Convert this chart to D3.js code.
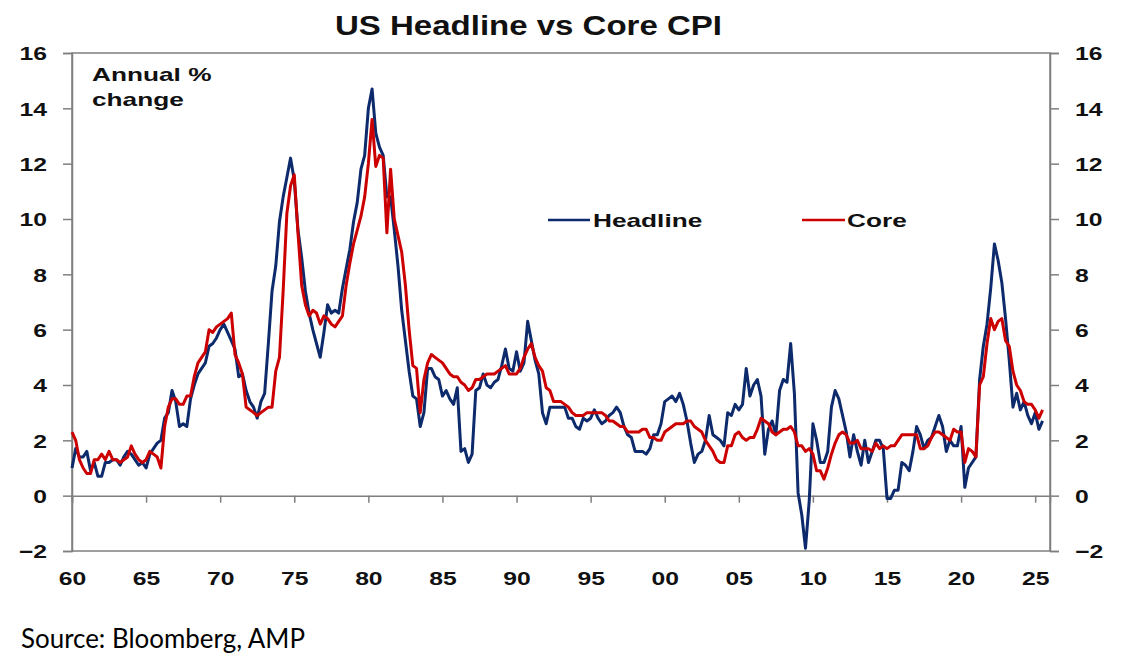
<!DOCTYPE html>
<html>
<head>
<meta charset="utf-8">
<script src="https://cdn.jsdelivr.net/npm/d3@7"></script>
<style>
  html, body { margin: 0; padding: 0; background: #ffffff; }
  svg { display: block; }
</style>
</head>
<body>
<svg id="chart" width="1134" height="668"></svg>
<script>
// ---- DATA (quarterly, first value = Q1 1960) ----
const startYear = 1960;
const headline = [
  1.0, 1.7, 1.4, 1.4,   // 1960
  1.6, 0.9, 1.2, 0.7,   // 1961
  0.7, 1.2, 1.2, 1.3,   // 1962
  1.3, 1.1, 1.4, 1.6,   // 1963
  1.5, 1.3, 1.1, 1.2,   // 1964
  1.0, 1.5, 1.7, 1.9,   // 1965
  2.0, 2.8, 3.0, 3.8,   // 1966
  3.4, 2.5, 2.6, 2.5,   // 1967
  3.5, 4.0, 4.4, 4.6,   // 1968
  4.8, 5.4, 5.5, 5.7,   // 1969
  6.0, 6.2, 5.9, 5.6,   // 1970
  5.3, 4.3, 4.4, 3.8,   // 1971
  3.4, 3.2, 2.8, 3.4,   // 1972
  3.7, 5.5, 7.4, 8.3,   // 1973
  9.9, 10.8, 11.5, 12.2, // 1974
  11.4, 9.6, 8.6, 7.4,  // 1975
  6.6, 6.0, 5.5, 5.0,   // 1976
  5.9, 6.9, 6.6, 6.7,   // 1977
  6.6, 7.5, 8.2, 8.9,   // 1978
  9.9, 10.6, 11.8, 12.3, // 1979
  14.0, 14.7, 13.1, 12.6, // 1980
  12.3, 10.8, 10.8, 9.6, // 1981
  8.3, 6.7, 5.6, 4.5,   // 1982
  3.6, 3.5, 2.5, 3.0,   // 1983
  4.6, 4.6, 4.3, 4.2,   // 1984
  3.6, 3.8, 3.5, 3.3,   // 1985
  3.9, 1.6, 1.7, 1.2,   // 1986
  1.5, 3.8, 3.9, 4.4,   // 1987
  4.0, 3.9, 4.1, 4.2,   // 1988
  4.7, 5.3, 4.6, 4.5,   // 1989
  5.2, 4.5, 4.8, 6.3,   // 1990
  5.6, 4.9, 4.4, 3.0,   // 1991
  2.6, 3.2, 3.2, 3.2,   // 1992
  3.2, 3.2, 2.8, 2.8,   // 1993
  2.5, 2.4, 2.8, 2.7,   // 1994
  2.8, 3.1, 2.8, 2.6,   // 1995
  2.7, 2.9, 3.0, 3.2,   // 1996
  3.0, 2.5, 2.2, 2.1,   // 1997
  1.6, 1.6, 1.6, 1.5,   // 1998
  1.7, 2.2, 2.2, 2.6,   // 1999
  3.4, 3.5, 3.6, 3.4,   // 2000
  3.7, 3.3, 2.7, 1.9,   // 2001
  1.2, 1.5, 1.6, 2.0,   // 2002
  2.9, 2.2, 2.1, 2.0,   // 2003
  1.8, 3.0, 2.9, 3.3,   // 2004
  3.1, 3.3, 4.6, 3.6,   // 2005
  4.0, 4.2, 3.6, 1.5,   // 2006
  2.4, 2.7, 2.2, 3.8,   // 2007
  4.2, 4.1, 5.5, 3.7,   // 2008
  0.1, -0.7, -1.9, -0.2, // 2009
  2.6, 2.0, 1.2, 1.2,   // 2010
  1.6, 3.2, 3.8, 3.5,   // 2011
  2.9, 2.3, 1.4, 2.2,   // 2012
  1.6, 1.1, 2.0, 1.2,   // 2013
  1.6, 2.0, 2.0, 1.7,   // 2014
  -0.1, -0.1, 0.2, 0.2, // 2015
  1.2, 1.1, 0.9, 1.6,   // 2016
  2.5, 2.2, 1.7, 2.0,   // 2017
  2.1, 2.5, 2.9, 2.5,   // 2018
  1.6, 2.0, 1.8, 1.8,   // 2019
  2.5, 0.3, 1.0, 1.2,   // 2020
  1.4, 4.2, 5.4, 6.2,   // 2021
  7.5, 9.1, 8.5, 7.7,   // 2022
  6.4, 4.9, 3.2, 3.7,   // 2023
  3.1, 3.4, 2.9, 2.6,   // 2024
  3.0, 2.4, 2.7         // 2025
];
const core = [
  2.3, 2.0, 1.3, 1.0,   // 1960
  0.8, 0.8, 1.3, 1.3,   // 1961
  1.5, 1.3, 1.6, 1.3,   // 1962
  1.3, 1.2, 1.3, 1.4,   // 1963
  1.8, 1.5, 1.3, 1.2,   // 1964
  1.3, 1.6, 1.5, 1.4,   // 1965
  1.0, 2.5, 3.2, 3.5,   // 1966
  3.5, 3.3, 3.3, 3.6,   // 1967
  3.6, 4.3, 4.8, 5.0,   // 1968
  5.2, 6.0, 5.9, 6.1,   // 1969
  6.2, 6.3, 6.4, 6.6,   // 1970
  5.1, 4.8, 4.4, 3.2,   // 1971
  3.1, 3.0, 2.9, 3.0,   // 1972
  3.1, 3.2, 3.2, 4.5,   // 1973
  5.0, 7.4, 10.2, 11.2, // 1974
  11.6, 9.5, 7.6, 6.9,  // 1975
  6.5, 6.7, 6.6, 6.2,   // 1976
  6.5, 6.4, 6.2, 6.1,   // 1977
  6.3, 6.5, 7.6, 8.4,   // 1978
  9.1, 9.6, 10.1, 10.8, // 1979
  12.0, 13.6, 11.9, 12.3, // 1980
  12.2, 9.5, 11.8, 10.0, // 1981
  9.4, 8.8, 7.6, 6.0,   // 1982
  4.7, 4.6, 3.0, 4.2,   // 1983
  4.8, 5.1, 5.0, 4.9,   // 1984
  4.8, 4.6, 4.4, 4.3,   // 1985
  4.3, 4.1, 4.0, 3.8,   // 1986
  3.9, 4.2, 4.2, 4.3,   // 1987
  4.4, 4.4, 4.4, 4.5,   // 1988
  4.6, 4.7, 4.4, 4.4,   // 1989
  4.4, 4.6, 5.0, 5.3,   // 1990
  5.5, 5.0, 4.7, 4.5,   // 1991
  3.9, 3.8, 3.4, 3.4,   // 1992
  3.4, 3.3, 3.2, 3.0,   // 1993
  2.9, 2.9, 2.9, 3.0,   // 1994
  3.0, 3.0, 3.0, 3.0,   // 1995
  2.9, 2.7, 2.7, 2.6,   // 1996
  2.5, 2.5, 2.3, 2.3,   // 1997
  2.3, 2.3, 2.4, 2.4,   // 1998
  2.1, 2.1, 2.0, 2.0,   // 1999
  2.3, 2.4, 2.5, 2.6,   // 2000
  2.6, 2.6, 2.7, 2.7,   // 2001
  2.5, 2.4, 2.3, 2.0,   // 2002
  1.8, 1.6, 1.3, 1.2,   // 2003
  1.2, 1.8, 1.8, 2.2,   // 2004
  2.3, 2.1, 2.0, 2.1,   // 2005
  2.1, 2.4, 2.8, 2.7,   // 2006
  2.6, 2.3, 2.2, 2.3,   // 2007
  2.4, 2.4, 2.5, 2.3,   // 2008
  1.8, 1.8, 1.6, 1.7,   // 2009
  1.5, 0.9, 0.9, 0.6,   // 2010
  1.0, 1.5, 1.9, 2.2,   // 2011
  2.3, 2.2, 1.9, 1.9,   // 2012
  2.0, 1.7, 1.7, 1.7,   // 2013
  1.6, 1.9, 1.7, 1.8,   // 2014
  1.7, 1.8, 1.8, 2.0,   // 2015
  2.2, 2.2, 2.2, 2.2,   // 2016
  2.2, 1.7, 1.7, 1.8,   // 2017
  2.1, 2.3, 2.3, 2.2,   // 2018
  2.1, 2.0, 2.4, 2.3,   // 2019
  2.3, 1.2, 1.7, 1.6,   // 2020
  1.4, 4.0, 4.3, 5.5,   // 2021
  6.4, 6.0, 6.3, 6.4,   // 2022
  5.6, 5.4, 4.5, 4.0,   // 2023
  3.8, 3.4, 3.3, 3.3,   // 2024
  3.1, 2.8, 3.1         // 2025
];
const xTickYears = [1960, 1965, 1970, 1975, 1980, 1985, 1990, 1995, 2000, 2005, 2010, 2015, 2020, 2025];
const xTickLabels = ["60", "65", "70", "75", "80", "85", "90", "95", "00", "05", "10", "15", "20", "25"];
const yTicks = [-2, 0, 2, 4, 6, 8, 10, 12, 14, 16];
const seriesNames = ["Headline", "Core"];

// ---- LAYOUT ----
const svg = d3.select("#chart");
const pLeft = 72, pRight = 1050, pTop = 53, pBottom = 551;
const x = d3.scaleLinear().domain([1960, 2026]).range([pLeft, pRight]);
const y = d3.scaleLinear().domain([-2, 16]).range([pBottom, pTop]);
const axisColor = "#7f7f7f";
const navy = "#0d2a6c";
const red = "#cc0000";
const font = "'Liberation Sans', Arial, sans-serif";

function stretch(sel, sx) {
  sel.each(function () {
    const w = this.getComputedTextLength();
    d3.select(this).attr("textLength", w * sx).attr("lengthAdjust", "spacingAndGlyphs");
  });
}

// plot frame
svg.append("rect")
  .attr("x", pLeft).attr("y", pTop)
  .attr("width", pRight - pLeft).attr("height", pBottom - pTop)
  .attr("fill", "none").attr("stroke", axisColor).attr("stroke-width", 1.5);

// left axis
const gl = svg.append("g").attr("transform", `translate(${pLeft},0)`)
  .call(d3.axisLeft(y).tickValues(yTicks).tickSize(9).tickPadding(16).tickFormat(d3.format("d")));
// right axis
const gr = svg.append("g").attr("transform", `translate(${pRight},0)`)
  .call(d3.axisRight(y).tickValues(yTicks).tickSize(9).tickPadding(16).tickFormat(d3.format("d")));
[gl, gr].forEach(g => {
  g.select(".domain").attr("stroke", axisColor).attr("stroke-width", 1.5);
  g.selectAll(".tick line").attr("stroke", axisColor).attr("stroke-width", 1.5);
  g.selectAll(".tick text")
    .attr("font-family", font).attr("font-size", 19).attr("font-weight", "bold")
    .attr("fill", "#111").attr("dy", "0.36em");
});
gl.selectAll(".tick text").attr("x", -25);
gr.selectAll(".tick text").attr("x", 25);
stretch(gl.selectAll(".tick text"), 1.3);
stretch(gr.selectAll(".tick text"), 1.3);

// x axis at zero
const gx = svg.append("g").attr("transform", `translate(0,${y(0)})`)
  .call(d3.axisBottom(x).tickValues(xTickYears).tickSize(7).tickFormat((d, i) => xTickLabels[i]));
gx.select(".domain").attr("stroke", axisColor).attr("stroke-width", 1.5);
gx.selectAll(".tick line").attr("stroke", axisColor).attr("stroke-width", 1.5);
gx.selectAll(".tick text")
  .attr("font-family", font).attr("font-size", 19).attr("font-weight", "bold")
  .attr("fill", "#111").attr("y", y(-2) - y(0) + 34).attr("dy", 0);
stretch(gx.selectAll(".tick text"), 1.3);

// lines
const toPoints = arr => arr.map((v, i) => ({ t: startYear + i / 4, v }));
const line = d3.line().x(d => x(d.t)).y(d => y(d.v));
svg.append("path").datum(toPoints(headline))
  .attr("d", line).attr("fill", "none").attr("stroke", navy)
  .attr("stroke-width", 3).attr("stroke-linejoin", "round");
svg.append("path").datum(toPoints(core))
  .attr("d", line).attr("fill", "none").attr("stroke", red)
  .attr("stroke-width", 3).attr("stroke-linejoin", "round");

// title
svg.append("text").attr("x", 335).attr("y", 35)
  .attr("font-family", font).attr("font-size", 28).attr("font-weight", "bold")
  .attr("fill", "#111").attr("textLength", 387).attr("lengthAdjust", "spacingAndGlyphs")
  .text("US Headline vs Core CPI");

// annotation
const ann = svg.append("text").attr("font-family", font).attr("font-size", 19)
  .attr("font-weight", "bold").attr("fill", "#111");
ann.append("tspan").attr("x", 92).attr("y", 81).text("Annual %");
ann.append("tspan").attr("x", 92).attr("y", 106).text("change");
stretch(ann.selectAll("tspan"), 1.38);

// legend
const legendItems = [
  { name: seriesNames[0], color: navy, x0: 548, x1: 590, tx: 593 },
  { name: seriesNames[1], color: red, x0: 802, x1: 845, tx: 847 }
];
legendItems.forEach(it => {
  svg.append("line").attr("x1", it.x0).attr("x2", it.x1).attr("y1", 220).attr("y2", 220)
    .attr("stroke", it.color).attr("stroke-width", 2.5);
  const t = svg.append("text").attr("x", it.tx).attr("y", 227)
    .attr("font-family", font).attr("font-size", 19).attr("font-weight", "bold")
    .attr("fill", "#111").text(it.name);
  stretch(t, 1.38);
});

// source
svg.append("text").attr("x", 21).attr("y", 648)
  .attr("font-family", "Lato, 'Open Sans', sans-serif").attr("font-size", 26)
  .attr("fill", "#000").attr("textLength", 284).attr("lengthAdjust", "spacingAndGlyphs")
  .text("Source: Bloomberg, AMP");
</script>
</body>
</html>
